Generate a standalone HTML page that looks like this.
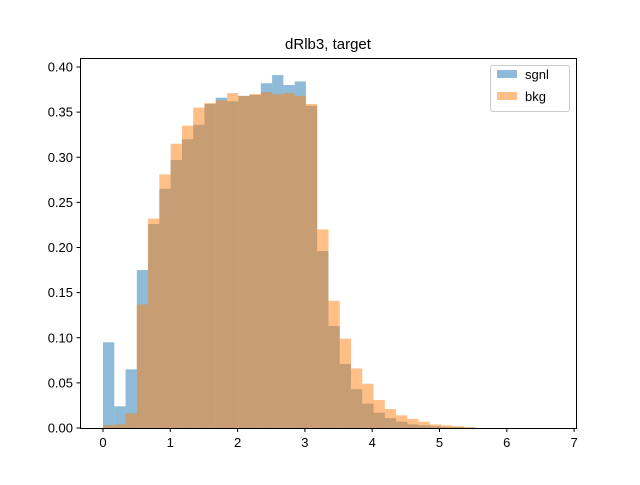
<!DOCTYPE html>
<html><head><meta charset="utf-8"><style>
body{margin:0;background:#fff}
text{font-family:"Liberation Sans","DejaVu Sans",sans-serif;font-size:13px;fill:#000}
</style></head><body>
<svg id="chart" width="640" height="480" xmlns="http://www.w3.org/2000/svg">
<rect width="640" height="480" fill="#fff"/>
<text x="328" y="49" text-anchor="middle" style="font-size:15px">dRlb3, target</text>
<g id="bars"></g>
<rect x="80.5" y="58.5" width="496" height="370" fill="none" stroke="#000" stroke-width="1"/>
<g id="axes"></g>
<g>
<rect x="490.5" y="65.5" width="79" height="46" rx="2" fill="#fff" fill-opacity="0.8" stroke="#ccc"/>
<rect x="497" y="70" width="20" height="8" fill="#1f77b4" fill-opacity="0.5"/>
<text x="525" y="79">sgnl</text>
<rect x="497" y="92" width="20" height="8" fill="#ff7f0e" fill-opacity="0.5"/>
<text x="525" y="101">bkg</text>
</g>
</svg>
<script>
const binWidth = 0.1675;
const sgnl = [0.095,0.024,0.065,0.175,0.226,0.265,0.297,0.320,0.336,0.359,0.366,0.362,0.368,0.369,0.382,0.391,0.380,0.384,0.357,0.196,0.113,0.071,0.043,0.027,0.017,0.011,0.007,0.004,0.003,0.002,0.001,0.001,0.0005];
const bkg = [0.003,0.004,0.016,0.137,0.232,0.281,0.315,0.335,0.355,0.360,0.363,0.371,0.368,0.370,0.372,0.370,0.371,0.368,0.359,0.220,0.141,0.099,0.066,0.049,0.031,0.021,0.014,0.010,0.007,0.004,0.003,0.002,0.001];
const xTicks = [0,1,2,3,4,5,6,7];
const yTicks = [0,0.05,0.10,0.15,0.20,0.25,0.30,0.35,0.40];
const yTickLabels = ["0.00","0.05","0.10","0.15","0.20","0.25","0.30","0.35","0.40"];
const NS="http://www.w3.org/2000/svg";
const xs = v => 103 + v*67.3;
const ys = v => 428 - v*902.5;
const bars = document.getElementById('bars');
function drawSeries(arr, color, name){
  arr.forEach((v,i)=>{
    const r=document.createElementNS(NS,'rect');
    const x0=xs(i*binWidth), x1=xs((i+1)*binWidth);
    r.setAttribute('x',x0);r.setAttribute('width',x1-x0);
    r.setAttribute('y',ys(v));r.setAttribute('height',ys(0)-ys(v));
    r.setAttribute('fill',color);r.setAttribute('fill-opacity','0.5');
    
    
    bars.appendChild(r);
  });
}
drawSeries(sgnl,'#1f77b4','sgnl');
drawSeries(bkg,'#ff7f0e','bkg');
const axes=document.getElementById('axes');
xTicks.forEach(t=>{
  const x=xs(t);
  const l=document.createElementNS(NS,'line');
  l.setAttribute('x1',x);l.setAttribute('x2',x);l.setAttribute('y1',428.5);l.setAttribute('y2',432);l.setAttribute('stroke','#000');
  
  
  axes.appendChild(l);
  const tx=document.createElementNS(NS,'text');
  tx.setAttribute('x',x);tx.setAttribute('y',447);tx.setAttribute('text-anchor','middle');tx.textContent=t;
  
  
  axes.appendChild(tx);
});
yTicks.forEach((t,i)=>{
  const y=ys(t);
  const l=document.createElementNS(NS,'line');
  l.setAttribute('x1',76.5);l.setAttribute('x2',80.5);l.setAttribute('y1',y);l.setAttribute('y2',y);l.setAttribute('stroke','#000');
  
  
  axes.appendChild(l);
  const tx=document.createElementNS(NS,'text');
  tx.setAttribute('x',73);tx.setAttribute('y',y+4.5);tx.setAttribute('text-anchor','end');tx.textContent=yTickLabels[i];
  
  
  axes.appendChild(tx);
});
</script>
</body></html>
